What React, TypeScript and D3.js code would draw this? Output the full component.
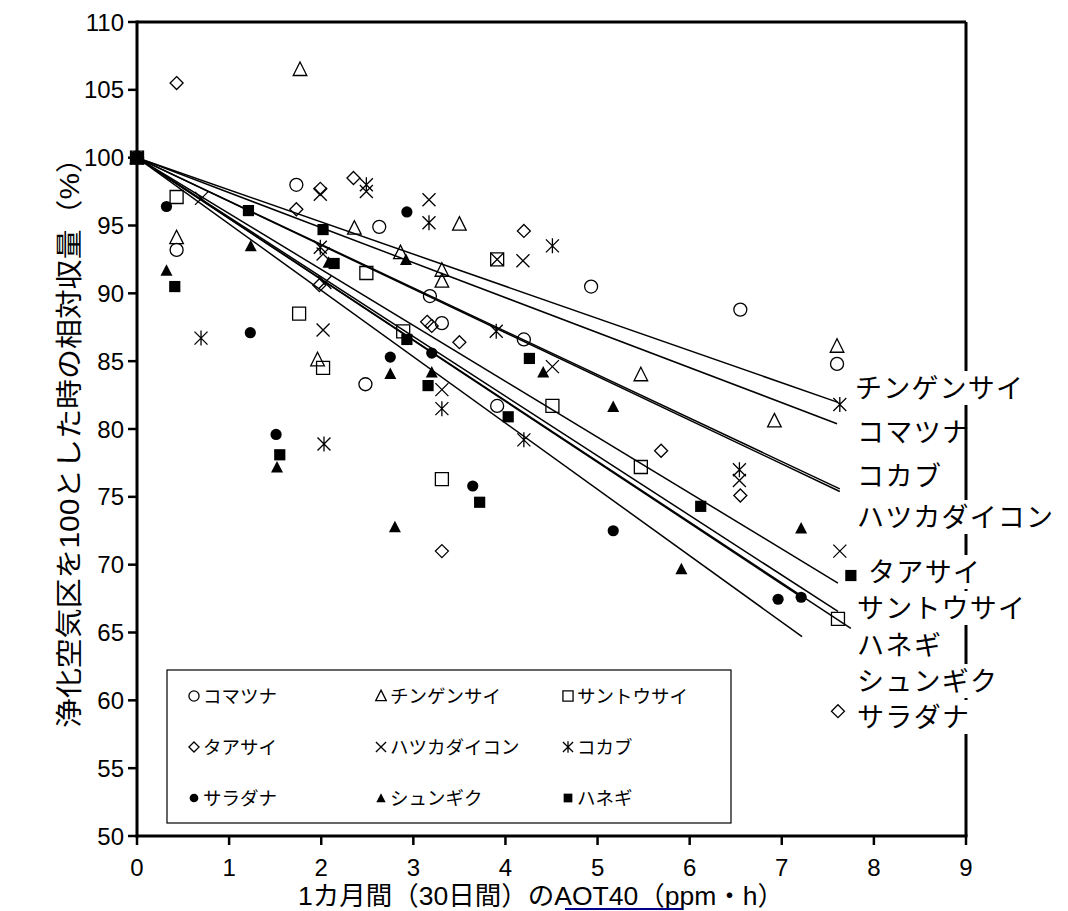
import React from 'react';
import * as d3 from 'd3';

// ---- data ----
const xTicks = [0, 1, 2, 3, 4, 5, 6, 7, 8, 9];
const yTicks = [50, 55, 60, 65, 70, 75, 80, 85, 90, 95, 100, 105, 110];

const seriesNames = ['コマツナ', 'チンゲンサイ', 'サントウサイ', 'タアサイ', 'ハツカダイコン', 'コカブ', 'サラダナ', 'シュンギク', 'ハネギ'];
const seriesShapes = ['circle', 'triangle', 'square', 'diamond', 'x', 'star', 'dot', 'tri', 'sq'];

const komatsuna = [[0, 100], [0.43, 93.2], [1.73, 98.0], [2.63, 94.9], [3.18, 89.8], [2.48, 83.3], [3.31, 87.8], [4.2, 86.6], [3.91, 81.7], [4.93, 90.5], [6.55, 88.8], [7.6, 84.8]];
const chingensai = [[0, 100], [0.43, 94.1], [1.77, 106.5], [2.36, 94.8], [2.86, 93.0], [3.5, 95.1], [3.31, 91.7], [3.31, 90.9], [1.96, 85.1], [5.47, 84.0], [6.92, 80.6], [7.6, 86.1]];
const santousai = [[0, 100], [0.43, 97.1], [1.76, 88.5], [2.02, 84.5], [2.49, 91.5], [2.89, 87.2], [3.91, 92.5], [3.31, 76.3], [4.51, 81.7], [5.47, 77.2], [7.61, 66.0]];
const taasai = [[0, 100], [0.43, 105.5], [1.99, 97.7], [2.35, 98.5], [1.73, 96.2], [1.98, 90.6], [3.15, 87.9], [3.2, 87.6], [3.5, 86.4], [4.2, 94.6], [3.31, 71.0], [5.69, 78.4], [6.55, 75.1], [7.61, 59.2]];
const hatsukadaikon = [[0, 100], [0.7, 97.0], [1.99, 97.3], [2.49, 97.5], [2.02, 92.9], [2.04, 90.8], [2.02, 87.3], [3.17, 96.9], [3.91, 92.5], [4.19, 92.4], [3.31, 82.9], [4.51, 84.6], [6.54, 76.2], [7.63, 71.0]];
const kokabu = [[0, 100], [0.695, 86.7], [2.49, 98.0], [1.99, 93.4], [3.17, 95.2], [4.51, 93.5], [3.9, 87.2], [3.31, 81.5], [4.2, 79.2], [2.03, 78.9], [6.54, 77.0], [7.63, 81.8]];
const saradana = [[0, 100], [0.32, 96.4], [1.23, 87.1], [1.51, 79.6], [2.93, 96.0], [2.75, 85.3], [3.2, 85.6], [3.645, 75.8], [5.17, 72.5], [6.96, 67.45], [7.21, 67.6]];
const shungiku = [[0, 100], [0.32, 91.7], [1.235, 93.5], [1.52, 77.2], [2.08, 92.3], [2.92, 92.5], [2.75, 84.1], [3.2, 84.2], [2.8, 72.8], [4.41, 84.2], [5.17, 81.65], [5.91, 69.7], [7.21, 72.7]];
const henegi = [[0, 100], [0.41, 90.5], [1.21, 96.1], [2.02, 94.7], [2.14, 92.2], [2.93, 86.6], [3.16, 83.2], [1.55, 78.1], [4.26, 85.2], [4.03, 80.9], [3.72, 74.6], [6.12, 74.3], [7.75, 69.2]];

const seriesData = [komatsuna, chingensai, santousai, taasai, hatsukadaikon, kokabu, saradana, shungiku, henegi];

// regression lines through (0,100): slope per unit AOT40, and extent
const lineSlopes = [-2.58, -2.37, -4.395, -4.12, -3.225, -3.2, -4.89, -4.49, -4.477];
const lineEndX = [7.6, 7.61, 7.61, 7.61, 7.63, 7.63, 7.22, 7.21, 7.75];

const rightLabels = ['チンゲンサイ', 'コマツナ', 'コカブ', 'ハツカダイコン', 'タアサイ', 'サントウサイ', 'ハネギ', 'シュンギク', 'サラダナ'];

const yTitle = '浄化空気区を100とした時の相対収量（%）';

// ---- layout ----
const W = 1068, H = 911;
const X0 = 137, X1 = 966, Y0 = 836, Y1 = 22;
const labelY = [388, 432, 476, 517, 572, 608, 645, 681, 717];
const labelX = [855, 857, 857, 857, 868, 857, 857, 857, 857];
const labelBoxed = [true, false, false, true, true, true, false, true, true];
const JP = '"Noto Sans CJK JP", "Noto Sans", sans-serif';
const LAT = '"Liberation Sans", Arial, "Noto Sans CJK JP", sans-serif';

function Marker({ shape, cx, cy, s = 1 }: { shape: string; cx: number; cy: number; s?: number }) {
  const sw = 1.3;
  const t = `translate(${cx},${cy}) scale(${s})`;
  switch (shape) {
    case 'circle':
      return <circle cx={cx} cy={cy} r={6.5 * s} fill="none" stroke="#000" strokeWidth={sw} />;
    case 'triangle':
      return <path transform={t} d="M0,-7.5L6.8,6L-6.8,6Z" fill="none" stroke="#000" strokeWidth={sw / s} />;
    case 'square':
      return <path transform={t} d="M-6.5,-6.5H6.5V6.5H-6.5Z" fill="none" stroke="#000" strokeWidth={sw / s} />;
    case 'diamond':
      return <path transform={t} d="M0,-6.5L6.5,0L0,6.5L-6.5,0Z" fill="none" stroke="#000" strokeWidth={sw / s} />;
    case 'x':
      return <path transform={t} d="M-6.5,-6.5L6.5,6.5M6.5,-6.5L-6.5,6.5" fill="none" stroke="#000" strokeWidth={sw / s} />;
    case 'star':
      return <path transform={t} d="M-6.5,-6.5L6.5,6.5M6.5,-6.5L-6.5,6.5M0,-7.5V7.5" fill="none" stroke="#000" strokeWidth={sw / s} />;
    case 'dot':
      return <circle cx={cx} cy={cy} r={5.6 * s} fill="#000" />;
    case 'tri':
      return <path transform={t} d="M0,-6L6,5.5L-6,5.5Z" fill="#000" />;
    case 'sq':
      return <path transform={t} d="M-5.6,-5.6H5.6V5.6H-5.6Z" fill="#000" />;
  }
  return null;
}

export default function App() {
  const x = d3.scaleLinear().domain([0, 9]).range([X0, X1]);
  const y = d3.scaleLinear().domain([50, 110]).range([Y0, Y1]);
  const line = d3.line<number[]>().x((d) => x(d[0])).y((d) => y(d[1]));

  return (
    <svg width={W} height={H} style={{ position: 'absolute', left: 0, top: 0, background: '#fff' }}>
      <rect x={0} y={0} width={W} height={H} fill="#fff" />

      {/* regression lines */}
      {lineSlopes.map((m, i) => (
        <path key={'l' + i} d={line([[0, 100], [lineEndX[i], 100 + m * lineEndX[i]]]) || ''} stroke="#000" strokeWidth={1.5} fill="none" />
      ))}

      {/* points */}
      {seriesData.map((pts, i) =>
        pts.map((p, j) => <Marker key={`m${i}-${j}`} shape={seriesShapes[i]} cx={x(p[0])} cy={y(p[1])} />)
      )}

      {/* frame */}
      <line x1={X0} y1={Y1} x2={X1} y2={Y1} stroke="#000" strokeWidth={3} />
      <line x1={X1} y1={Y1} x2={X1} y2={Y0} stroke="#000" strokeWidth={3} />
      <line x1={X0} y1={Y1 - 1.5} x2={X0} y2={Y0 + 1.5} stroke="#000" strokeWidth={3} />
      <line x1={X0 - 1.5} y1={Y0} x2={X1 + 1.5} y2={Y0} stroke="#000" strokeWidth={3} />

      {/* y ticks */}
      {yTicks.map((t) => (
        <g key={'yt' + t}>
          <line x1={X0 - 9} x2={X0} y1={y(t)} y2={y(t)} stroke="#000" strokeWidth={2.5} />
          <text x={124} y={y(t)} dy="0.36em" textAnchor="end" fontFamily={LAT} fontSize={24}>{t}</text>
        </g>
      ))}
      {/* x ticks */}
      {xTicks.map((t) => (
        <g key={'xt' + t}>
          <line x1={x(t)} x2={x(t)} y1={Y0} y2={Y0 + 9} stroke="#000" strokeWidth={2.5} />
          <text x={x(t)} y={876} textAnchor="middle" fontFamily={LAT} fontSize={24}>{t}</text>
        </g>
      ))}

      {/* legend */}
      <rect x={167} y={670} width={564} height={153} fill="#fff" stroke="#000" strokeWidth={1.2} />
      {seriesNames.map((n, i) => {
        const col = i % 3, row = Math.floor(i / 3);
        const mx = [194, 381, 568][col];
        const my = [696, 747, 798][row];
        return (
          <g key={'lg' + i}>
            <Marker shape={seriesShapes[i]} cx={mx} cy={my} s={0.78} />
            <text x={mx + 9} y={my} dy="0.36em" fontFamily={JP} fontSize={18.5}>{n}</text>
          </g>
        );
      })}

      {/* right-side labels */}
      {rightLabels.map((n, i) => (
        <g key={'rl' + i}>
          {labelBoxed[i] && <rect x={labelX[i] - 2} y={labelY[i] - 17} width={n.length * 28 + 4} height={34} fill="#fff" />}
          <text x={labelX[i]} y={labelY[i]} dy="0.36em" fontFamily={JP} fontSize={27} textLength={n.length * 28} lengthAdjust="spacing">{n}</text>
        </g>
      ))}

      {/* y title */}
      <text transform="translate(79,435.5) rotate(-90)" textAnchor="middle" fontFamily={LAT} fontSize={27} textLength={585} lengthAdjust="spacingAndGlyphs">{yTitle}</text>

      {/* x title */}
      <text x={298} y={905} fontFamily={LAT} fontSize={26} textLength={486} lengthAdjust="spacingAndGlyphs">
        1カ月間（30日間）のAOT40（ppm・h）
      </text>
      <line x1={565} x2={682} y1={909} y2={909} stroke="#00008B" strokeWidth={2} />
    </svg>
  );
}
